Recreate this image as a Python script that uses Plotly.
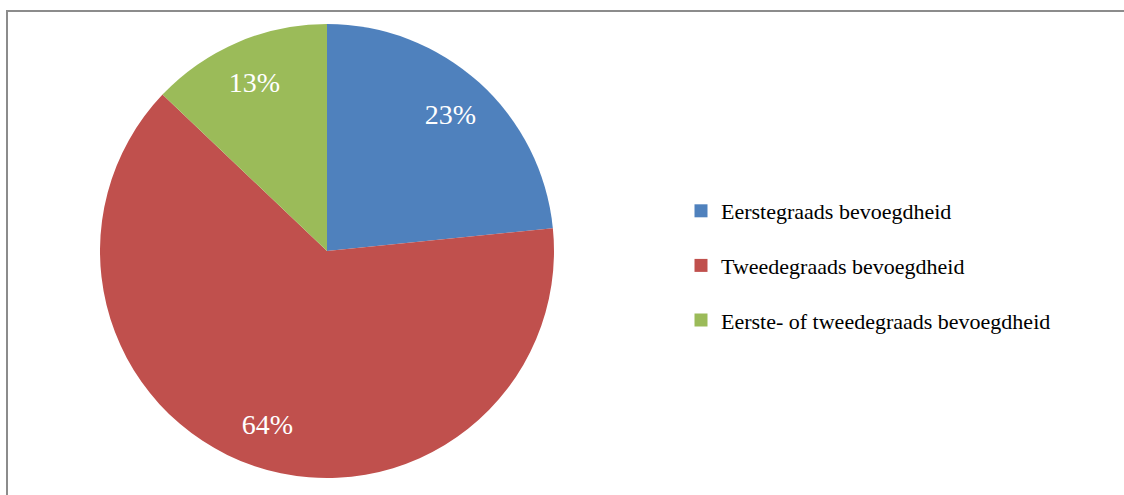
import plotly.graph_objects as go

labels = ["Eerstegraads bevoegdheid", "Tweedegraads bevoegdheid", "Eerste- of tweedegraads bevoegdheid"]
values = [23.4, 63.7, 12.9]
colors = ["#4F81BD", "#C0504D", "#9BBB59"]

W, H = 1124, 495
dom = dict(x=[100 / W, 554 / W], y=[1 - 478 / H, 1 - 24 / H])

fig = go.Figure()
# filled pie
fig.add_trace(go.Pie(
    labels=labels, values=values, sort=False, direction="clockwise", rotation=0,
    marker=dict(colors=colors, line=dict(width=0)),
    textinfo="none", showlegend=False, hoverinfo="label+percent",
    domain=dom,
))
# transparent ring carrying the percentage labels further out
fig.add_trace(go.Pie(
    labels=labels, values=values, sort=False, direction="clockwise", rotation=0,
    hole=0.62,
    marker=dict(colors=["rgba(0,0,0,0)"] * 3, line=dict(width=0)),
    texttemplate="%{percent:.0%}", textposition="inside",
    insidetextorientation="horizontal",
    textfont=dict(family="Liberation Serif", size=28, color="white"),
    showlegend=False, hoverinfo="skip",
    domain=dom,
))
for lab, col in zip(labels, colors):
    fig.add_trace(go.Scatter(
        x=[None], y=[None], mode="markers", name=lab, legendgroup=lab,
        marker=dict(symbol="square", size=13, color=col),
    ))

fig.update_layout(
    width=W, height=H, margin=dict(l=0, r=0, t=0, b=0),
    paper_bgcolor="white", plot_bgcolor="white",
    xaxis=dict(visible=False), yaxis=dict(visible=False),
    legend=dict(x=681 / W, y=1 - 190 / H, xanchor="left", yanchor="top",
                font=dict(family="Liberation Serif", size=22, color="black"),
                tracegroupgap=23, itemwidth=30, bgcolor="rgba(0,0,0,0)"),
    shapes=[dict(type="path", xref="paper", yref="paper",
                 path=f"M {7 / W},-0.05 L {7 / W},{1 - 11 / H} L 1.05,{1 - 11 / H}",
                 line=dict(color="#8C8C8C", width=2))],
)
fig.write_html("out.html", config={"displayModeBar": False},
               post_script="document.body.style.margin='0';")
